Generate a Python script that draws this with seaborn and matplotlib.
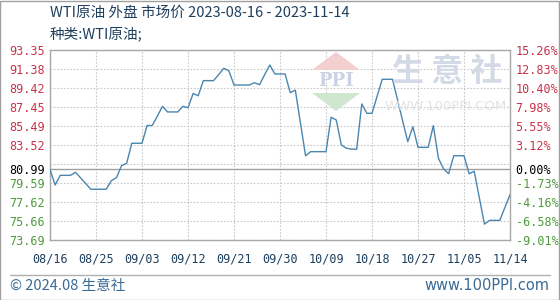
import numpy as np
import pandas as pd
import matplotlib
matplotlib.use("Agg")
import matplotlib.pyplot as plt
from matplotlib.patches import Polygon, Rectangle
from matplotlib.lines import Line2D
import seaborn as sns

# ---------------- data ----------------
start_date = "2023-08-16"
end_date = "2023-11-14"
base_price = 80.99
prices = [
    80.99, 79.38, 80.38, 80.38, 80.38, 80.70, 80.11, 79.52, 78.94, 78.94,
    78.94, 78.94, 79.83, 80.14, 81.38, 81.63, 83.70, 83.70, 83.70, 85.54,
    85.54, 86.50, 87.52, 86.94, 86.94, 86.94, 87.52, 87.37, 88.85, 88.62,
    90.18, 90.18, 90.18, 90.80, 91.46, 91.20, 89.73, 89.73, 89.73, 89.73,
    89.97, 89.76, 90.80, 91.80, 90.87, 90.87, 90.87, 88.93, 89.20, 85.80,
    82.40, 82.83, 82.83, 82.83, 82.83, 86.39, 86.11, 83.52, 83.18, 83.10,
    83.08, 87.76, 86.80, 86.80, 88.56, 90.32, 90.32, 90.32, 88.20, 86.00,
    83.86, 85.41, 83.28, 83.28, 83.28, 85.52, 82.14, 81.05, 80.55, 82.41,
    82.41, 82.41, 80.55, 80.80, 78.05, 75.33, 75.72, 75.72, 75.72, 77.05,
    78.38,
]
x_tick_labels = ["08/16", "08/25", "09/03", "09/12", "09/21", "09/30",
                 "10/09", "10/18", "10/27", "11/05", "11/14"]
y_grid_levels = [73.69, 75.66, 77.62, 79.59, 81.56, 83.52, 85.49, 87.45,
                 89.42, 91.38, 93.35]
y_left_labels = ["73.69", "75.66", "77.62", "79.59", "", "83.52", "85.49",
                 "87.45", "89.42", "91.38", "93.35"]
y_right_labels = ["-9.01%", "-6.58%", "-4.16%", "-1.73%", "", "3.12%", "5.55%",
                  "7.98%", "10.40%", "12.83%", "15.26%"]
base_label_left = "80.99"
base_label_right = "0.00%"
title = "WTI原油 外盘 市场价 2023-08-16 - 2023-11-14"
subtitle = "种类:WTI原油;"
footer_left = "© 2024.08 生意社"
footer_right = "www.100PPI.com"

dates = pd.date_range(start_date, end_date, freq="D")
df = pd.DataFrame({"date": dates, "price": prices})
df["day"] = (df["date"] - df["date"].iloc[0]).dt.days
tick_days = [int((pd.Timestamp(f"2023-{t.replace('/', '-')}") - dates[0]).days)
             for t in x_tick_labels]

# ---------------- style ----------------
sns.set_style("white")
plt.rcParams["font.family"] = ["Noto Sans CJK SC", "DejaVu Sans"]

W, H = 560, 300
fig = plt.figure(figsize=(W / 100, H / 100), dpi=100)
def fx(px): return px / W
def fy(py): return 1 - py / H

L, R, T, B = 50, 510, 50, 240
ax = fig.add_axes([fx(L), fy(B), fx(R) - fx(L), fy(T) - fy(B)])

red = "#c8334a"
green = "#4e9a3c"
navy = "#1e3f5e"
line_c = "#4a86b0"
grid_c = "#c8c8c8"

# watermark (behind data)
wm_c = "#d3dae6"
fig.patches.append(Polygon([(fx(312), fy(70)), (fx(336), fy(52)), (fx(360), fy(70))],
                           closed=True, transform=fig.transFigure,
                           facecolor="#f3cfcf", edgecolor="none", zorder=0))
fig.patches.append(Polygon([(fx(312), fy(93)), (fx(336), fy(111)), (fx(360), fy(93))],
                           closed=True, transform=fig.transFigure,
                           facecolor="#cfe6cf", edgecolor="none", zorder=0))
fig.text(fx(336), fy(81), "PPI", ha="center", va="center", fontsize=13,
         color="#c9d3e4", fontweight="bold", family="DejaVu Serif", zorder=0)
fig.text(fx(447), fy(72), "生 意 社", ha="center", va="center", fontsize=23,
         color=wm_c, fontweight="bold", zorder=0)
fig.text(fx(446), fy(107), "WWW.100PPI.COM", ha="center", va="center", fontsize=9.5,
         color="#e3e3e3", family="DejaVu Sans", zorder=0)
ax.set_facecolor("none")

sns.lineplot(data=df, x="day", y="price", ax=ax, color=line_c, linewidth=1.0,
             zorder=5)

ax.set_xlim(0, 90)
ax.set_ylim(y_grid_levels[0], y_grid_levels[-1])
ax.set_xticks(tick_days)
ax.set_xticklabels(x_tick_labels)
ax.set_yticks(y_grid_levels)
ax.set_yticklabels(y_left_labels)
ax.set_yticks([base_price], minor=True)
ax.set_yticklabels([base_label_left], minor=True)
ax.set_xlabel("")
ax.set_ylabel("")
ax.grid(True, which="major", color=grid_c, linestyle=(0, (1.5, 1.5)), linewidth=0.8)
ax.axhline(base_price, color="#a0a0a0", linewidth=1.0, zorder=4)
for s in ax.spines.values():
    s.set_color("#a8a8a8")
    s.set_linewidth(1.0)
ax.tick_params(axis="both", which="both", length=0)
ax.tick_params(axis="x", pad=9, labelsize=8.5, labelcolor=navy)
ax.tick_params(axis="y", which="both", pad=4, labelsize=8.5)
for lbl, lev in zip(ax.get_yticklabels(), y_grid_levels):
    lbl.set_color(red if lev > base_price else green)
    lbl.set_family("DejaVu Sans Mono")
for lbl in ax.get_yticklabels(minor=True):
    lbl.set_color("black")
    lbl.set_family("DejaVu Sans Mono")
for lbl in ax.get_xticklabels():
    lbl.set_family("DejaVu Sans Mono")

ax2 = ax.twinx()
ax2.set_ylim(ax.get_ylim())
ax2.set_yticks(y_grid_levels)
ax2.set_yticklabels(y_right_labels)
ax2.set_yticks([base_price], minor=True)
ax2.set_yticklabels([base_label_right], minor=True)
ax2.tick_params(axis="y", which="both", length=0, pad=4, labelsize=8.5)
for s in ax2.spines.values():
    s.set_visible(False)
for lbl, lev in zip(ax2.get_yticklabels(), y_grid_levels):
    lbl.set_color(red if lev > base_price else green)
    lbl.set_family("DejaVu Sans Mono")
for lbl in ax2.get_yticklabels(minor=True):
    lbl.set_color("black")
    lbl.set_family("DejaVu Sans Mono")

# titles
fig.text(fx(50), fy(13), title, ha="left", va="center", fontsize=10.5, color=navy)
fig.text(fx(50), fy(34), subtitle, ha="left", va="center", fontsize=10.5, color=navy)

# footer
fig.add_artist(Line2D([fx(10), fx(550)], [fy(275), fy(275)], transform=fig.transFigure,
                      color="#b0b0b0", linewidth=1.0))
fig.text(fx(10), fy(286), footer_left, ha="left", va="center", fontsize=10.5,
         color="#3a6a96")
fig.text(fx(549), fy(286), footer_right, ha="right", va="center", fontsize=10.5,
         color="#3a6a96", family="DejaVu Sans")

# outer border
fig.patches.append(Rectangle((0, 0), 1 - 1 / W, 1 - 1 / H, transform=fig.transFigure,
                             fill=False, edgecolor="#a0a0a0", linewidth=1.0))

fig.savefig("out.png", dpi=100)
